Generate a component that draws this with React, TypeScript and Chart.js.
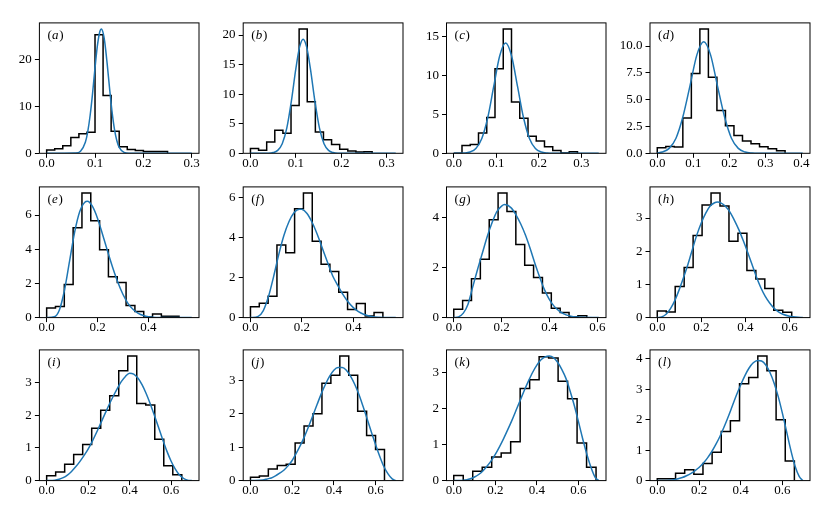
import React, { useEffect, useRef } from "react";
import { Chart, registerables } from "chart.js";

Chart.register(...registerables);

// ---------------- data ----------------
const panelLetters = ["a", "b", "c", "d", "e", "f", "g", "h", "i", "j", "k", "l"];

// histogram bin heights (density), bins spread evenly from 0 to histEnd
const histA = [0.7, 1.0, 1.6, 3.4, 4.2, 4.5, 25.4, 12.4, 4.7, 1.4, 0.8, 0.6, 0.4, 0.4, 0.4];
const histB = [0.8, 0.5, 1.9, 3.9, 3.4, 8.1, 21.0, 8.7, 3.6, 2.3, 1.5, 0.7, 0.4, 0.2, 0.25];
const histC = [0, 1.0, 1.13, 2.6, 4.6, 10.9, 16.0, 6.6, 4.5, 2.2, 1.6, 0.85, 0.35, 0.05, 0.2];
const histD = [0.52, 0.64, 0.58, 3.28, 7.45, 11.58, 7.1, 3.98, 2.58, 1.67, 1.15, 0.88, 0.6, 0.42, 0.24];
const histE = [0.56, 0.65, 1.93, 5.25, 7.28, 5.67, 3.97, 2.39, 2.05, 0.71, 0.36, 0.03, 0.21, 0.08, 0.08];
const histF = [0.54, 0.72, 1.07, 3.63, 3.24, 5.44, 6.22, 3.82, 2.66, 2.3, 1.27, 0.41, 0.71, 0.08, 0.25];
const histG = [0.33, 0.69, 1.56, 2.34, 3.92, 4.99, 4.25, 2.93, 2.1, 1.61, 0.99, 0.37, 0.2, 0.03, 0.07];
const histH = [0.2, 0.17, 0.94, 1.51, 2.47, 3.39, 3.75, 3.36, 2.3, 2.54, 1.42, 1.16, 0.88, 0.22, 0.16];
const histI = [0.15, 0.26, 0.5, 0.8, 1.1, 1.6, 2.15, 2.59, 3.35, 3.8, 2.35, 2.31, 1.26, 0.45, 0.18];
const histJ = [0.1, 0.14, 0.35, 0.45, 0.49, 1.12, 1.63, 2.0, 2.91, 3.15, 3.72, 3.15, 2.07, 1.35, 0.93];
const histK = [0.14, 0, 0.26, 0.37, 0.66, 0.77, 1.08, 2.57, 2.81, 3.45, 3.42, 2.77, 2.28, 1.05, 0.37];
const histL = [0.06, 0.06, 0.24, 0.36, 0.21, 0.56, 0.93, 1.61, 1.97, 3.18, 3.39, 4.09, 3.61, 2.0, 0.64];

const histEnds = [0.25, 0.268, 0.291, 0.355, 0.52, 0.515, 0.556, 0.61, 0.652, 0.643, 0.685, 0.657];

// fitted curves
const curveAx = [0, 0.06, 0.07, 0.08, 0.085, 0.09, 0.095, 0.1, 0.105, 0.11, 0.113, 0.117, 0.12, 0.125, 0.13, 0.135, 0.14, 0.145, 0.15, 0.16, 0.17, 0.3];
const curveAy = [0, 0.05, 0.44, 2.37, 4.66, 8.2, 12.9, 18.3, 23.1, 26.1, 26.6, 25.7, 23.9, 19.3, 14.0, 9.1, 5.3, 2.73, 1.27, 0.2, 0.02, 0];

const curveBx = [0, 0.04, 0.05, 0.06, 0.07, 0.08, 0.09, 0.1, 0.108, 0.116, 0.124, 0.132, 0.142, 0.152, 0.162, 0.172, 0.182, 0.192, 0.32];
const curveBy = [0, 0.02, 0.12, 0.5, 1.63, 4.25, 8.77, 14.3, 17.9, 19.3, 17.9, 14.3, 8.77, 4.25, 1.63, 0.5, 0.12, 0.02, 0];

const curveCx = [0, 0.01, 0.024, 0.038, 0.052, 0.066, 0.08, 0.094, 0.108, 0.122, 0.136, 0.15, 0.164, 0.178, 0.192, 0.206, 0.22, 0.234, 0.341];
const curveCy = [0, 0.005, 0.031, 0.158, 0.62, 1.92, 4.61, 8.61, 12.53, 14.2, 12.53, 8.61, 4.61, 1.92, 0.62, 0.158, 0.031, 0.005, 0];

const curveDx = [0, 0.014, 0.033, 0.052, 0.071, 0.091, 0.11, 0.129, 0.148, 0.167, 0.187, 0.206, 0.225, 0.244, 0.263, 0.283, 0.404];
const curveDy = [0.04, 0.115, 0.46, 1.41, 3.38, 6.31, 9.18, 10.4, 9.18, 6.31, 3.38, 1.41, 0.46, 0.115, 0.023, 0.004, 0];

const curveEx = [0, 0.03, 0.05, 0.07, 0.09, 0.11, 0.13, 0.15, 0.16, 0.18, 0.2, 0.22, 0.24, 0.26, 0.28, 0.3, 0.32, 0.34, 0.36, 0.38, 0.4, 0.43, 0.57];
const curveEy = [0, 0.05, 0.45, 1.6, 3.3, 5.0, 6.2, 6.75, 6.8, 6.5, 5.8, 4.85, 3.85, 2.9, 2.05, 1.35, 0.82, 0.47, 0.25, 0.12, 0.05, 0.01, 0];

const curveFx = [0, 0.03, 0.05, 0.07, 0.09, 0.11, 0.13, 0.15, 0.17, 0.19, 0.2, 0.22, 0.24, 0.26, 0.28, 0.3, 0.32, 0.34, 0.36, 0.38, 0.4, 0.42, 0.44, 0.47, 0.5, 0.565];
const curveFy = [0, 0.06, 0.35, 1.05, 2.05, 3.15, 4.1, 4.8, 5.25, 5.42, 5.41, 5.2, 4.75, 4.15, 3.45, 2.75, 2.08, 1.6, 1.15, 0.78, 0.5, 0.3, 0.17, 0.06, 0.02, 0];

const curveGx = [0, 0.02, 0.04, 0.06, 0.08, 0.1, 0.12, 0.14, 0.16, 0.18, 0.2, 0.2125, 0.24, 0.26, 0.28, 0.3, 0.32, 0.34, 0.36, 0.38, 0.4, 0.42, 0.44, 0.46, 0.48, 0.52, 0.606];
const curveGy = [0, 0.03, 0.18, 0.55, 1.25, 1.95, 2.6, 3.25, 3.8, 4.25, 4.47, 4.53, 4.4, 4.12, 3.75, 3.3, 2.75, 2.15, 1.6, 1.1, 0.72, 0.45, 0.27, 0.15, 0.08, 0.02, 0];

const curveHx = [0, 0.02, 0.04, 0.06, 0.08, 0.1, 0.12, 0.14, 0.16, 0.18, 0.2, 0.22, 0.24, 0.26, 0.274, 0.29, 0.31, 0.33, 0.35, 0.37, 0.39, 0.41, 0.43, 0.45, 0.47, 0.49, 0.51, 0.53, 0.55, 0.57, 0.6, 0.66];
const curveHy = [0, 0.02, 0.1, 0.27, 0.52, 0.85, 1.22, 1.62, 2.07, 2.5, 2.86, 3.15, 3.36, 3.46, 3.48, 3.45, 3.35, 3.18, 2.93, 2.65, 2.32, 1.97, 1.6, 1.22, 0.9, 0.64, 0.44, 0.28, 0.17, 0.1, 0.04, 0];

const curveIx = [0, 0.04, 0.06, 0.08, 0.1, 0.12, 0.14, 0.16, 0.18, 0.2, 0.22, 0.24, 0.26, 0.28, 0.3, 0.32, 0.34, 0.36, 0.38, 0.4, 0.42, 0.44, 0.46, 0.48, 0.5, 0.52, 0.54, 0.56, 0.58, 0.6, 0.62, 0.64, 0.66, 0.68, 0.7];
const curveIy = [0, 0.01, 0.04, 0.09, 0.17, 0.28, 0.42, 0.58, 0.76, 0.96, 1.2, 1.46, 1.74, 2.02, 2.3, 2.56, 2.8, 3.02, 3.18, 3.28, 3.25, 3.13, 2.93, 2.66, 2.34, 1.99, 1.62, 1.25, 0.9, 0.6, 0.36, 0.18, 0.07, 0.015, 0];

const curveJx = [0, 0.06, 0.08, 0.1, 0.12, 0.14, 0.16, 0.18, 0.2, 0.22, 0.24, 0.26, 0.28, 0.3, 0.32, 0.34, 0.36, 0.38, 0.4, 0.42, 0.44, 0.46, 0.48, 0.5, 0.52, 0.54, 0.56, 0.58, 0.6, 0.62, 0.64, 0.66, 0.68, 0.697];
const curveJy = [0, 0.02, 0.05, 0.08, 0.14, 0.22, 0.31, 0.44, 0.6, 0.82, 1.06, 1.33, 1.63, 1.95, 2.28, 2.6, 2.88, 3.12, 3.3, 3.38, 3.38, 3.3, 3.12, 2.88, 2.58, 2.22, 1.84, 1.45, 1.08, 0.73, 0.42, 0.2, 0.05, 0];

const curveKx = [0, 0.04, 0.06, 0.08, 0.1, 0.12, 0.14, 0.16, 0.18, 0.2, 0.22, 0.24, 0.26, 0.28, 0.3, 0.32, 0.34, 0.36, 0.38, 0.4, 0.42, 0.44, 0.46, 0.48, 0.5, 0.52, 0.54, 0.56, 0.58, 0.6, 0.62, 0.64, 0.66, 0.68, 0.698];
const curveKy = [0, 0.005, 0.02, 0.05, 0.1, 0.17, 0.27, 0.4, 0.55, 0.73, 0.94, 1.17, 1.42, 1.68, 1.96, 2.24, 2.52, 2.78, 3.02, 3.22, 3.37, 3.45, 3.47, 3.43, 3.3, 3.1, 2.85, 2.5, 2.1, 1.65, 1.18, 0.75, 0.38, 0.1, 0];

const curveLx = [0, 0.06, 0.08, 0.1, 0.12, 0.14, 0.16, 0.18, 0.2, 0.22, 0.24, 0.26, 0.28, 0.3, 0.32, 0.34, 0.36, 0.38, 0.4, 0.42, 0.44, 0.46, 0.48, 0.5, 0.52, 0.54, 0.56, 0.58, 0.6, 0.62, 0.64, 0.66, 0.68, 0.697];
const curveLy = [0, 0.01, 0.03, 0.06, 0.1, 0.16, 0.23, 0.32, 0.43, 0.57, 0.74, 0.94, 1.18, 1.45, 1.76, 2.1, 2.46, 2.82, 3.15, 3.45, 3.7, 3.87, 3.95, 3.93, 3.8, 3.55, 3.2, 2.75, 2.2, 1.6, 1.0, 0.48, 0.14, 0];

// tick labels
const xTicksA = [0, 0.1, 0.2, 0.3];
const xTicksD = [0, 0.1, 0.2, 0.3, 0.4];
const xTicksE = [0, 0.2, 0.4];
const xTicksG = [0, 0.2, 0.4, 0.6];
const yTicksA = [0, 10, 20];
const yTicksB = [0, 5, 10, 15, 20];
const yTicksC = [0, 5, 10, 15];
const yTicksD = [0, 2.5, 5, 7.5, 10];
const yTicksE = [0, 2, 4, 6];
const yTicksG = [0, 2, 4];
const yTicksH = [0, 1, 2, 3];
const yTicksL = [0, 1, 2, 3, 4];
const yDecimals = [0, 0, 0, 1, 0, 0, 0, 0, 0, 0, 0, 0];

const histList = [histA, histB, histC, histD, histE, histF, histG, histH, histI, histJ, histK, histL];
const curveXList = [curveAx, curveBx, curveCx, curveDx, curveEx, curveFx, curveGx, curveHx, curveIx, curveJx, curveKx, curveLx];
const curveYList = [curveAy, curveBy, curveCy, curveDy, curveEy, curveFy, curveGy, curveHy, curveIy, curveJy, curveKy, curveLy];
const xTickList = [xTicksA, xTicksA, xTicksA, xTicksD, xTicksE, xTicksE, xTicksG, xTicksG, xTicksG, xTicksG, xTicksG, xTicksG];
const yTickList = [yTicksA, yTicksB, yTicksC, yTicksD, yTicksE, yTicksE, yTicksG, yTicksH, yTicksH, yTicksH, yTicksH, yTicksL];

// ---------------- layout / style ----------------
const BLUE = "#1f77b4";
const FONT = '"Liberation Serif", "DejaVu Serif", serif';
const FSIZE = 13;
const LEFTS = [39.4, 243.2, 446.5, 650];
const TOPS = [20, 184.3, 347.3];
const PW = 160;
const PH = 133.3;
const PADL = 42;
const PADT = 8;
const PADR = 10;
const CW = PW + PADL + PADR;
const CH = 170;
const TICKLEN = 4.5;

function Panel({ idx }: { idx: number }) {
  const ref = useRef<HTMLCanvasElement | null>(null);
  const left = LEFTS[idx % 4];
  const top = TOPS[Math.floor(idx / 4)];
  const cl = Math.floor(left) - PADL;
  const ct = Math.floor(top) - PADT;

  useEffect(() => {
    const hist = histList[idx];
    const end = histEnds[idx];
    const n = hist.length;
    const w = end / n;
    const hp: { x: number; y: number }[] = [{ x: 0, y: 0 }];
    hist.forEach((v, i) => hp.push({ x: i * w, y: v }));
    hp.push({ x: end, y: hist[n - 1] });
    hp.push({ x: end, y: 0 });
    const cx = curveXList[idx];
    const cy = curveYList[idx];
    const cp = cx.map((x, i) => ({ x, y: cy[i] }));
    const R = Math.max(...cx);
    const ymax = 1.05 * Math.max(...hist, ...cy);
    const xt = xTickList[idx];
    const yt = yTickList[idx];
    const yd = yDecimals[idx];
    const letter = panelLetters[idx];
    const padTop = top - ct;
    const axisW = left - cl;
    const padB = CH - padTop - PH;

    const frame = {
      id: "frame" + idx,
      afterDraw(chart: any) {
        const { ctx, chartArea: a } = chart;
        ctx.save();
        ctx.strokeStyle = "#000";
        ctx.lineWidth = 1;
        ctx.strokeRect(a.left, a.top, a.right - a.left, a.bottom - a.top);
        ctx.fillStyle = "#000";
        ctx.textBaseline = "alphabetic";
        ctx.textAlign = "left";
        let x = a.left + 8;
        const y = a.top + 16.5;
        ctx.font = `${FSIZE}px ${FONT}`;
        ctx.fillText("(", x, y);
        x += ctx.measureText("(").width + 0.3;
        ctx.font = `italic ${FSIZE}px ${FONT}`;
        ctx.fillText(letter, x, y);
        x += ctx.measureText(letter).width + 0.6;
        ctx.font = `${FSIZE}px ${FONT}`;
        ctx.fillText(")", x, y);
        ctx.restore();
      },
    };

    const tickFont = { family: FONT, size: FSIZE, lineHeight: 1.2 };
    const chart = new Chart(ref.current as HTMLCanvasElement, {
      type: "line",
      data: {
        datasets: [
          {
            data: cp,
            borderColor: BLUE,
            borderWidth: 1.5,
            pointRadius: 0,
            fill: false,
            cubicInterpolationMode: "monotone",
          } as any,
          {
            data: hp,
            borderColor: "#000",
            borderWidth: 1.5,
            pointRadius: 0,
            fill: false,
            stepped: "before",
          } as any,
        ],
      },
      options: {
        animation: false,
        responsive: false,
        devicePixelRatio: 1,
        events: [],
        layout: { padding: { top: padTop, right: PADR, left: 0, bottom: 0 } },
        plugins: { legend: { display: false }, tooltip: { enabled: false } },
        scales: {
          x: {
            type: "linear",
            min: -0.05 * R,
            max: 1.05 * R,
            afterFit: (s: any) => {
              s.height = padB;
            },
            afterBuildTicks: (s: any) => {
              s.ticks = xt.map((v) => ({ value: v }));
            },
            ticks: {
              autoSkip: false,
              maxRotation: 0,
              color: "#000",
              font: tickFont,
              padding: 10 - TICKLEN - 7.8,
              callback: (v: any) => Number(v).toFixed(1),
            },
            grid: { drawOnChartArea: false, drawTicks: true, tickLength: TICKLEN, color: "#000", lineWidth: 1 },
            border: { display: false },
          },
          y: {
            type: "linear",
            min: 0,
            max: ymax,
            afterFit: (s: any) => {
              s.width = axisW;
            },
            afterBuildTicks: (s: any) => {
              s.ticks = yt.map((v) => ({ value: v }));
            },
            ticks: {
              autoSkip: false,
              color: "#000",
              font: tickFont,
              padding: 3.1,
              callback: (v: any) => Number(v).toFixed(yd),
            },
            grid: { drawOnChartArea: false, drawTicks: true, tickLength: TICKLEN, color: "#000", lineWidth: 1 },
            border: { display: false },
          },
        },
      } as any,
      plugins: [frame],
    });
    return () => chart.destroy();
  }, [idx]);

  return (
    <canvas
      ref={ref}
      width={CW}
      height={CH}
      style={{ position: "absolute", left: cl, top: ct, width: CW, height: CH }}
    />
  );
}

export default function App() {
  return (
    <div style={{ position: "absolute", left: 0, top: 0, width: 830, height: 519, background: "#fff", overflow: "hidden" }}>
      {panelLetters.map((_, i) => (
        <Panel key={i} idx={i} />
      ))}
    </div>
  );
}
